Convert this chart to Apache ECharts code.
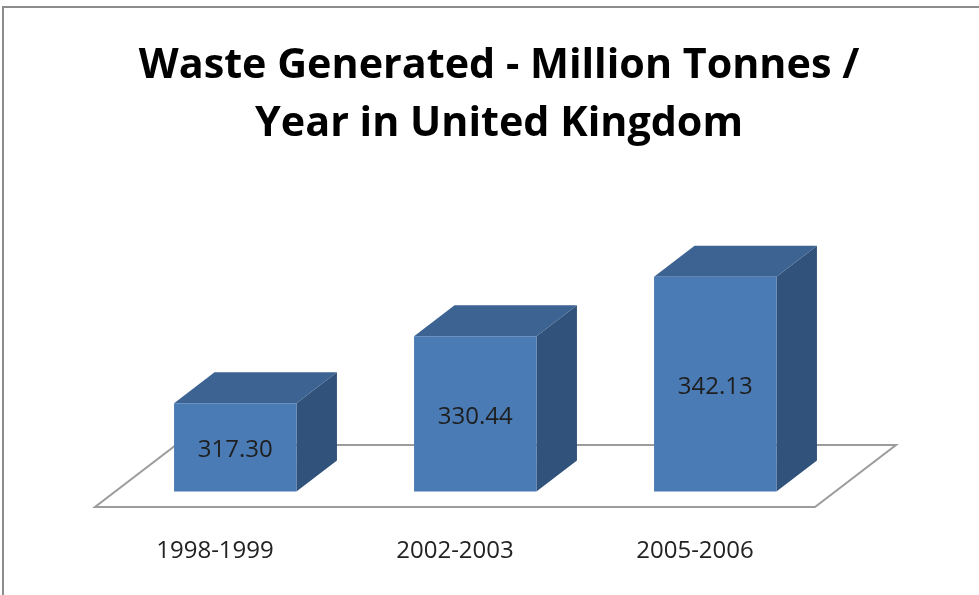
<!DOCTYPE html>
<html>
<head>
<meta charset="utf-8">
<script src="https://cdn.jsdelivr.net/npm/echarts@6/dist/echarts.min.js"></script>
<style>html,body{margin:0;padding:0;background:#fff;}#c{width:979px;height:595px;}</style>
</head>
<body>
<div id="c"></div>
<script>
var titleText = 'Waste Generated - Million Tonnes /\nYear in United Kingdom';
var categories = ['1998-1999', '2002-2003', '2005-2006'];
var values = [317.30, 330.44, 342.13];
var axisMin = 300;
var axisMax = 350;

var DEPTH_DX = 81, DEPTH_DY = -62;
var FRONT = 0.25, BACK = 0.75;
var BAR_RATIO = 0.51;

var chart = echarts.init(document.getElementById('c'), null, {renderer: 'canvas'});

function floorItem(params, api) {
  var cs = params.coordSys;
  var x0 = cs.x, x1 = cs.x + cs.width, y0 = cs.y + cs.height;
  return {
    type: 'polygon',
    shape: {points: [[x0, y0], [x1, y0], [x1 + DEPTH_DX, y0 + DEPTH_DY], [x0 + DEPTH_DX, y0 + DEPTH_DY]]},
    style: {fill: '#ffffff', stroke: '#9c9c9c', lineWidth: 2}
  };
}

function barItem(params, api) {
  var idx = api.value(0);
  var val = api.value(1);
  var top = api.coord([idx, val]);
  var base = api.coord([idx, axisMin]);
  var bw = api.size([1, 0])[0] * BAR_RATIO;
  var fx = FRONT * DEPTH_DX, fy = FRONT * DEPTH_DY;
  var bx = BACK * DEPTH_DX, by = BACK * DEPTH_DY;
  var l = top[0] - bw / 2 + fx, r = top[0] + bw / 2 + fx;
  var t = top[1] + fy, b = base[1] + fy;
  var dx = bx - fx, dy = by - fy;
  return {
    type: 'group',
    children: [
      {type: 'polygon', shape: {points: [[r, t], [r + dx, t + dy], [r + dx, b + dy], [r, b]]}, style: {fill: '#30527b'}},
      {type: 'polygon', shape: {points: [[l, t], [l + dx, t + dy], [r + dx, t + dy], [r, t]]}, style: {fill: '#3c6391'}},
      {type: 'rect', shape: {x: l, y: t, width: r - l, height: b - t}, style: {fill: '#4a7bb5'}},
      {type: 'text', x: (l + r) / 2, y: (t + b) / 2 + 3, style: {text: val.toFixed(2), align: 'center', verticalAlign: 'middle', font: '24px "Open Sans"', fill: '#1e1e1e'}}
    ]
  };
}

var option = {
  backgroundColor: '#ffffff',
  animation: false,
  title: {
    text: titleText,
    left: 499,
    top: 37,
    textAlign: 'center',
    padding: 0,
    textStyle: {fontFamily: 'Open Sans', fontWeight: 'bold', fontSize: 41.3, lineHeight: 58, color: '#000000'}
  },
  graphic: [{type: 'rect', shape: {x: 3, y: 7, width: 1000, height: 620}, style: {fill: 'none', stroke: '#8c8c8c', lineWidth: 2}, z: 100}],
  grid: {left: 95, right: 164, top: 252, bottom: 88},
  xAxis: {
    type: 'category',
    data: categories,
    axisLine: {show: false},
    axisTick: {show: false},
    axisLabel: {margin: 32, fontFamily: 'Open Sans', fontSize: 24, color: '#222222'}
  },
  yAxis: {type: 'value', min: axisMin, max: axisMax, show: false},
  series: [
    {type: 'custom', renderItem: floorItem, data: [[0, axisMin]], z: 1, silent: true},
    {type: 'custom', renderItem: barItem, data: values.map(function (v, i) { return [i, v]; }), encode: {x: 0, y: 1}, z: 2}
  ]
};
chart.setOption(option);
</script>
</body>
</html>
